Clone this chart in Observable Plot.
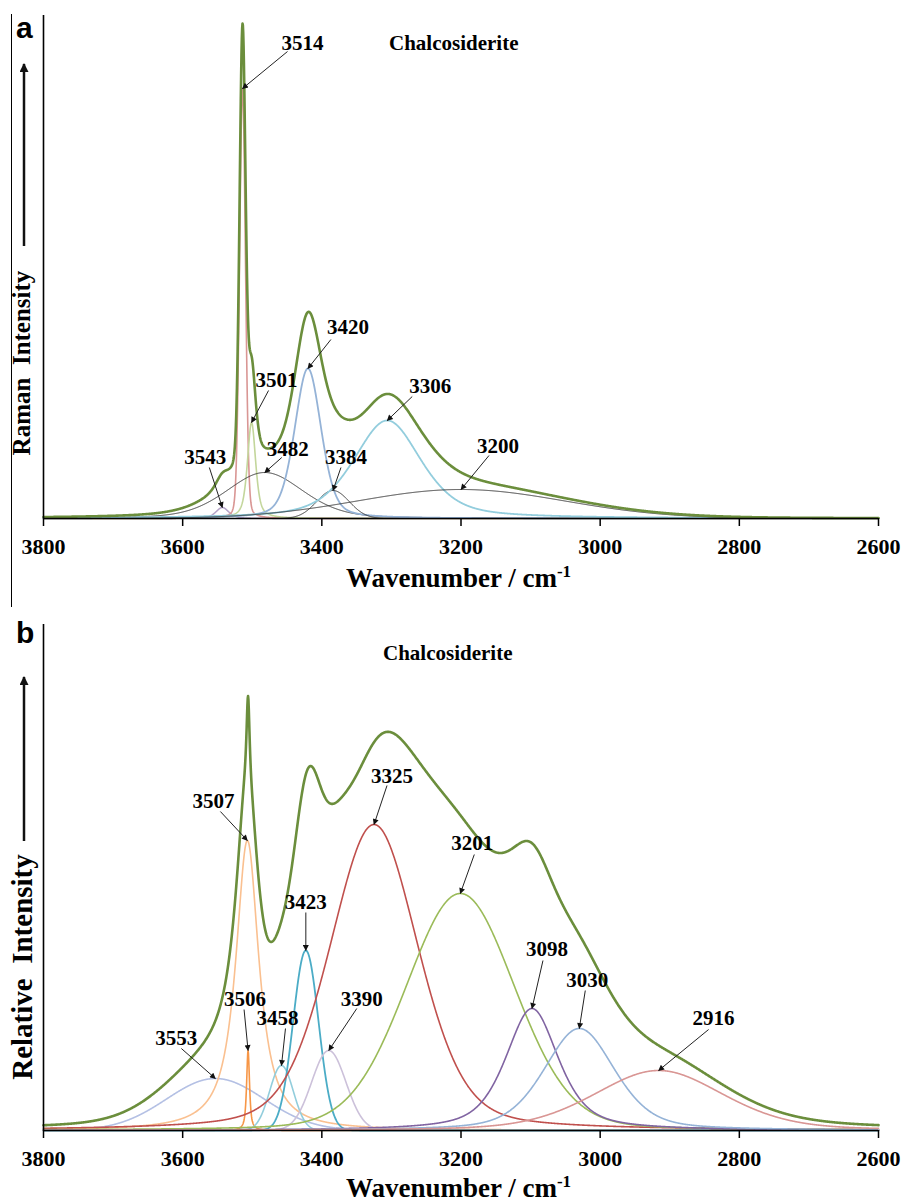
<!DOCTYPE html>
<html><head><meta charset="utf-8">
<script src="https://cdn.jsdelivr.net/npm/d3@7"></script>
<script src="https://cdn.jsdelivr.net/npm/@observablehq/plot@0.6"></script>
<style>
body{margin:0;background:#fff;}
#wrap{position:relative;width:902px;height:1202px;overflow:hidden;}
#wrap svg{display:block;}
#border{position:absolute;left:11px;top:14px;width:0;height:593px;border-left:1px solid #000;}
</style></head><body><div id="wrap"><div id="border"></div></div>
<script>
// ---------------- DATA ----------------
const xTicks = [3800, 3600, 3400, 3200, 3000, 2800, 2600];
const sampleName = "Chalcosiderite";

// Panel a : Raman spectrum, fitted bands (centre cm-1, peak height, FWHM cm-1, Lorentzian fraction)
const ramanLabels  = ["3543", "3514", "3501", "3482", "3420", "3384", "3306", "3200"];
const ramanCenters = [3543, 3514, 3501, 3482, 3420, 3384, 3306, 3200];
const ramanHeights = [11, 430, 96, 46, 150, 28, 98, 29];
const ramanFWHM    = [22, 10, 14, 130, 45, 55, 115, 350];
const ramanLorentz = [0.5, 0.15, 0.6, 0.3, 0.35, 0, 0.5, 0];

// Panel b : infrared spectrum, fitted bands
const irLabels  = ["3553", "3507", "3506", "3458", "3423", "3390", "3325", "3201", "3098", "3030", "2916"];
const irCenters = [3553, 3507, 3506, 3458, 3423, 3390, 3325, 3201, 3098, 3030, 2916];
const irHeights = [52, 290, 80, 65, 180, 80, 306, 237, 122, 102, 60];
const irFWHM    = [165, 40, 5, 40, 43, 58, 150, 185, 90, 120, 220];
const irLorentz = [0, 0.95, 0.8, 0, 0, 0, 0.3, 0.15, 0.6, 0.4, 0.3];

// ---------------- STYLE / LAYOUT ----------------
const ramanColors = ["#b3a2c7", "#d99694", "#c3d69b", "#333333", "#95b3d7", "#333333", "#93cddd", "#333333"];
const ramanStroke = [1.5, 1.6, 1.6, 1, 1.8, 1, 1.8, 1];
// label callouts: [text dx, text dy, arrow-start dx, arrow-start dy] in px relative to the band peak
const ramanCallouts = [[-17,-50,-13,-40],[60,-45,45,-37],[25,-42,17,-32],[23,-23,17,-15],[40,-41,23,-29],[13,-33,8,-23],[43,-34,25,-24],[37,-43,28,-34]];
const irColors = ["#b4c0e4", "#fac090", "#f79646", "#92cddc", "#4bacc6", "#ccc1da", "#c0504d", "#9bbb59", "#8064a2", "#95b3d7", "#d99694"];
const irStroke = [1.6, 1.6, 1.6, 1.6, 1.8, 1.6, 1.6, 1.6, 1.6, 1.6, 1.6];
const irCallouts = [[-39,-40,-34,-30],[-34,-39,-27,-29],[-3,-51,-4,-41],[-4,-47,4,-37],[0,-48,0,-38],[33,-51,28,-42],[18,-48,13,-39],[12,-50,14,-39],[15,-59,11,-48],[8,-48,6,-38],[55,-52,50,-41]];

const W = 902, mL = 43, mR = 24;
const SERIF = "'Liberation Serif','Times New Roman',serif";
const SANS = "'Liberation Sans',Arial,sans-serif";
const grid = d3.range(2600, 3800.0001, 0.5);

function pv(x, c, h, f, eta) {
  const t = (x - c) / (f / 2);
  return h * (eta / (1 + t * t) + (1 - eta) * Math.exp(-Math.LN2 * t * t));
}

function addMarker(svg, id, w, h) {
  const defs = svg.append("defs");
  defs.append("marker").attr("id", id).attr("viewBox", "0 0 10 10")
    .attr("refX", 9).attr("refY", 5).attr("markerWidth", w).attr("markerHeight", h)
    .attr("markerUnits", "userSpaceOnUse").attr("orient", "auto")
    .append("path").attr("d", "M0,0L10,5L0,10z").attr("fill", "#111");
}

function panel(cfg) {
  const {labels, centers, heights, fwhm, lorentz, colors, strokes, callouts, yMax, height, mT, mB} = cfg;
  const kx = (W - mL - mR) / 1200;            // px per cm-1
  const ky = (height - mT - mB) / yMax;       // px per intensity unit
  const bands = centers.map((c, i) => grid.map(x => ({x, y: pv(x, c, heights[i], fwhm[i], lorentz[i])})));
  const envelope = grid.map((x, k) => ({x, y: d3.sum(bands, b => b[k].y)}));
  const notes = labels.map((lab, i) => {
    const px = centers[i], py = heights[i], o = callouts[i];
    return {label: lab, px, py,
      tx: px - o[0] / kx, ty: py - o[1] / ky,
      sx: px - o[2] / kx, sy: py - o[3] / ky};
  });
  const svgNode = Plot.plot({
    width: W, height, marginLeft: mL, marginRight: mR, marginTop: mT, marginBottom: mB,
    style: {fontFamily: SERIF, background: "white", overflow: "visible"},
    x: {domain: [3800, 2600]},
    y: {domain: [0, yMax], axis: null},
    marks: [
      ...bands.map((b, i) => Plot.line(b, {x: "x", y: "y", stroke: colors[i], strokeWidth: strokes[i]})),
      Plot.line(envelope, {x: "x", y: "y", stroke: "#6b8e3c", strokeWidth: 2.6}),
      Plot.ruleY([0], {stroke: "#000", strokeWidth: 1.6}),
      Plot.ruleX([3800], {y1: 0, y2: yMax, stroke: "#000", strokeWidth: 1.6}),
      Plot.axisX({ticks: xTicks, tickSize: 8, tickPadding: 12, tickFormat: d => String(d), label: null,
        fontSize: 22, fontWeight: "bold", fontFamily: SERIF, stroke: "#000", strokeWidth: 1.5, fill: "#000"}),
      Plot.link(notes, {x1: "sx", y1: "sy", x2: "px", y2: "py", stroke: "#222", strokeWidth: 1}),
      Plot.text(notes, {x: "tx", y: "ty", text: "label", fontSize: 21, fontWeight: "bold", fontFamily: SERIF, fill: "#000"})
    ]
  });
  const svg = d3.select(svgNode);
  addMarker(svg, cfg.id + "-ah", 8, 6);
  addMarker(svg, cfg.id + "-big", 11, 9);
  svg.selectAll('g[aria-label="link"] path').attr("marker-end", `url(#${cfg.id}-ah)`);
  // panel letter
  svg.append("text").attr("x", 16).attr("y", cfg.letterY).attr("text-anchor", "start").attr("font-family", SANS)
    .attr("font-weight", "bold").attr("font-size", 30).text(cfg.letter);
  // sample name
  svg.append("text").attr("x", cfg.nameX).attr("y", cfg.nameY).attr("text-anchor", "start").attr("font-family", SERIF)
    .attr("font-weight", "bold").attr("font-size", 21).text(sampleName);
  // x title
  const xt = svg.append("text").attr("x", (mL + W - mR) / 2 - 2).attr("y", height - mB + cfg.xTitleOff)
    .attr("text-anchor", "middle").attr("font-family", SERIF).attr("font-weight", "bold").attr("font-size", 27);
  xt.append("tspan").text("Wavenumber / cm");
  xt.append("tspan").attr("dy", -10).attr("font-size", 17).text("-1");
  // y title with arrow
  svg.append("text").attr("transform", `translate(${cfg.yTitleX},${cfg.yTitleY}) rotate(-90)`)
    .attr("text-anchor", "middle").attr("font-family", SERIF).attr("font-weight", "bold")
    .attr("font-size", cfg.yTitleSize).style("white-space", "pre").text(cfg.yTitle);
  svg.append("line").attr("x1", 24).attr("x2", 24).attr("y1", cfg.arrowFrom).attr("y2", cfg.arrowTo)
    .attr("stroke", "#111").attr("stroke-width", 2.5).attr("marker-end", `url(#${cfg.id}-big)`);
  return svgNode;
}

const wrap = document.getElementById("wrap");
wrap.appendChild(panel({
  id: "a", labels: ramanLabels, centers: ramanCenters, heights: ramanHeights, fwhm: ramanFWHM,
  lorentz: ramanLorentz, colors: ramanColors, strokes: ramanStroke, callouts: ramanCallouts,
  yMax: 503, height: 605, mT: 15, mB: 87,
  letter: "a", letterY: 38, nameX: 389, nameY: 50, xTitleOff: 69,
  yTitle: "Raman  Intensity", yTitleX: 30, yTitleY: 363, yTitleSize: 25, arrowFrom: 246, arrowTo: 64
}));
wrap.appendChild(panel({
  id: "b", labels: irLabels, centers: irCenters, heights: irHeights, fwhm: irFWHM,
  lorentz: irLorentz, colors: irColors, strokes: irStroke, callouts: irCallouts,
  yMax: 506, height: 597, mT: 19, mB: 72,
  letter: "b", letterY: 38, nameX: 383, nameY: 55, xTitleOff: 67,
  yTitle: "Relative  Intensity", yTitleX: 32, yTitleY: 362, yTitleSize: 29, arrowFrom: 236, arrowTo: 72
}));
</script></body></html>
